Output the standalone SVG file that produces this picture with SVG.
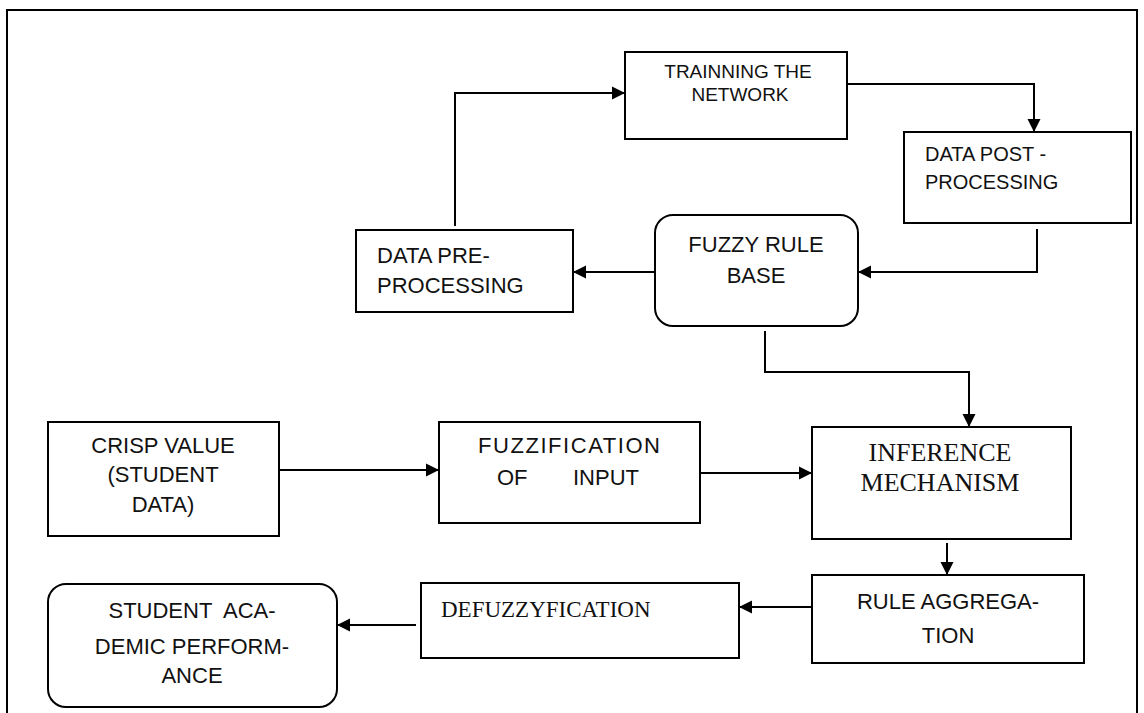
<svg xmlns="http://www.w3.org/2000/svg" width="1144" height="713" viewBox="0 0 1144 713">
<style>
.box{fill:#fff;stroke:#000;stroke-width:2}
.conn{fill:none;stroke:#000;stroke-width:2}
.t{font-family:"Liberation Sans",Arial,sans-serif;font-size:22px;fill:#111}
.s{font-family:"Liberation Serif","Times New Roman",serif;fill:#111}
.c{text-anchor:middle}
</style>
<defs>
<marker id="ah" markerUnits="userSpaceOnUse" markerWidth="14" markerHeight="14" refX="13" refY="7" orient="auto">
<path d="M0,0.5 L13,7 L0,13.5 Z" fill="#000"/>
</marker>
</defs>
<rect x="0" y="0" width="1144" height="713" fill="#fff"/>
<rect id="frame" x="7" y="10" width="1130" height="720" fill="none" stroke="#000" stroke-width="2"/>

<g id="connectors">
<path class="conn" d="M455 226 V93 H625" marker-end="url(#ah)"/>
<path class="conn" d="M847 84 H1034 V132" marker-end="url(#ah)"/>
<path class="conn" d="M1037 229 V272 H858" marker-end="url(#ah)"/>
<path class="conn" d="M655 272 H573" marker-end="url(#ah)"/>
<path class="conn" d="M765 331 V372 H969 V427" marker-end="url(#ah)"/>
<path class="conn" d="M279 470 H439" marker-end="url(#ah)"/>
<path class="conn" d="M700 473 H812" marker-end="url(#ah)"/>
<path class="conn" d="M947 543 V575" marker-end="url(#ah)"/>
<path class="conn" d="M812 607 H739" marker-end="url(#ah)"/>
<path class="conn" d="M416 625 H337" marker-end="url(#ah)"/>
</g>

<g id="training">
<rect class="box" x="625" y="52" width="222" height="87"/>
<text class="t c" x="738" y="78" style="font-size:19px">TRAINNING THE</text>
<text class="t c" x="740" y="101" style="font-size:19px">NETWORK</text>
</g>

<g id="postprocessing">
<rect class="box" x="904" y="132" width="227" height="91"/>
<text class="t" x="925" y="161" style="font-size:20px">DATA POST -</text>
<text class="t" x="925" y="189" style="font-size:20px">PROCESSING</text>
</g>

<g id="preprocessing">
<rect class="box" x="356" y="230" width="217" height="82"/>
<text class="t" x="377" y="263">DATA PRE-</text>
<text class="t" x="377" y="293">PROCESSING</text>
</g>

<g id="fuzzyrulebase">
<rect class="box" x="655" y="215" width="203" height="111" rx="18" ry="18"/>
<text class="t c" x="756" y="252">FUZZY RULE</text>
<text class="t c" x="756" y="283">BASE</text>
</g>

<g id="crisp">
<rect class="box" x="48" y="422" width="231" height="114"/>
<text class="t c" x="163" y="453">CRISP VALUE</text>
<text class="t c" x="163" y="482">(STUDENT</text>
<text class="t c" x="163" y="512">DATA)</text>
</g>

<g id="fuzzification">
<rect class="box" x="439" y="422" width="261" height="101"/>
<text class="t c" x="569" y="453" textLength="182" lengthAdjust="spacing">FUZZIFICATION</text>
<text class="t" y="485"><tspan x="497">OF</tspan><tspan x="573">INPUT</tspan></text>
</g>

<g id="inference">
<rect class="box" x="812" y="427" width="259" height="112"/>
<text class="s c" x="940" y="461" style="font-size:26px">INFERENCE</text>
<text class="s c" x="940" y="491" style="font-size:26px">MECHANISM</text>
</g>

<g id="ruleaggregation">
<rect class="box" x="812" y="575" width="272" height="88"/>
<text class="t c" x="948" y="609">RULE AGGREGA-</text>
<text class="t c" x="948" y="643">TION</text>
</g>

<g id="defuzzyfication">
<rect class="box" x="421" y="583" width="318" height="75"/>
<text class="s" x="441" y="617" style="font-size:23px">DEFUZZYFICATION</text>
</g>

<g id="student">
<rect class="box" x="48" y="584" width="289" height="123" rx="18" ry="18"/>
<text class="t c" x="192" y="618" xml:space="preserve">STUDENT  ACA-</text>
<text class="t c" x="192" y="654">DEMIC PERFORM-</text>
<text class="t c" x="192" y="683">ANCE</text>
</g>
</svg>
